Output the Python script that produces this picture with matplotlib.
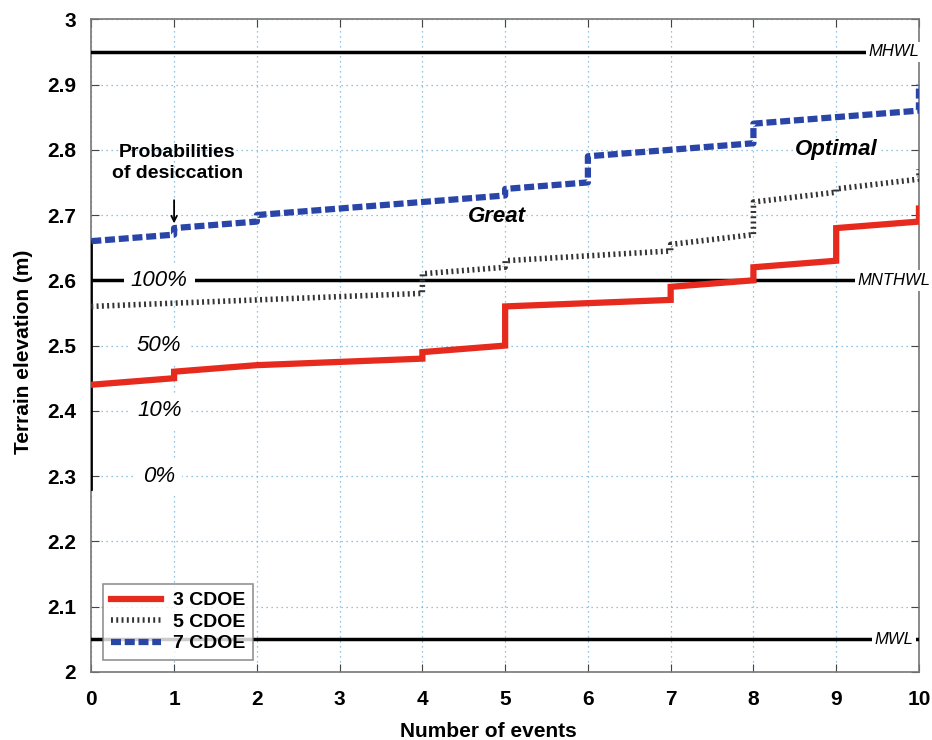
import matplotlib.pyplot as plt
import numpy as np

plt.rcParams['font.family'] = ['Liberation Sans', 'DejaVu Sans']
plt.rcParams['font.weight'] = 'bold'

# step-like series: duplicated x values give the vertical jumps
x3 = [0, 1, 1, 2, 4, 4, 5, 5, 7, 7, 8, 8, 9, 9, 10, 10]
y3 = [2.44, 2.45, 2.46, 2.47, 2.48, 2.49, 2.50, 2.56, 2.57, 2.59, 2.60, 2.62, 2.63, 2.68, 2.69, 2.71]

x5 = [0, 4, 4, 5, 5, 7, 7, 8, 8, 9, 9, 10, 10]
y5 = [2.56, 2.58, 2.61, 2.62, 2.63, 2.645, 2.655, 2.67, 2.72, 2.735, 2.74, 2.755, 2.77]

x7 = [0, 1, 1, 2, 2, 5, 5, 6, 6, 8, 8, 10, 10]
y7 = [2.66, 2.67, 2.68, 2.69, 2.70, 2.73, 2.74, 2.75, 2.79, 2.81, 2.84, 2.86, 2.90]

ref_levels = [2.95, 2.60, 2.05]
ref_names = ['MHWL', 'MNTHWL', 'MWL']

prob_labels = ['100%', '50%', '10%', '0%']
prob_levels = [2.60, 2.50, 2.40, 2.30]

fig = plt.figure(figsize=(9.32, 7.40), dpi=100)
ax = fig.add_axes([0.098, 0.092, 0.888, 0.882])

ax.set_xlim(0, 10)
ax.set_ylim(2, 3)
ax.set_xticks(range(0, 11))
ax.set_yticks(np.round(np.arange(2, 3.01, 0.1), 1))
ax.set_yticklabels(['2', '2.1', '2.2', '2.3', '2.4', '2.5', '2.6', '2.7', '2.8', '2.9', '3'])
ax.grid(True, color='#6fb0d8', linestyle=(0, (1, 3)), linewidth=0.9)
ax.tick_params(direction='in', top=True, right=True, length=6, labelsize=15, color='#444444')
ax.tick_params(axis='x', pad=13)
ax.tick_params(axis='y', pad=11)
for s in ax.spines.values():
    s.set_color('#777777')
    s.set_linewidth(1.2)

# reference water levels
for lvl, name in zip(ref_levels, ref_names):
    ax.axhline(lvl, color='black', lw=2.5, zorder=3)
    ax.text(9.7, lvl, name, ha='center', va='center', style='italic', fontweight='normal',
            fontsize=12, zorder=4, bbox=dict(facecolor='white', edgecolor='none', pad=2))

# vertical line at x = 0
ax.plot([0, 0], [2.28, 2.66], color='black', lw=2, zorder=3)

ax.plot(x3, y3, color='#e62a1e', lw=4.5, solid_joinstyle='miter', label='3 CDOE', zorder=5)
ax.plot(x5, y5, color='#333333', lw=4, linestyle=(0, (0.35, 0.6)), dash_capstyle='butt',
        label='5 CDOE', zorder=5)
ax.plot(x7, y7, color='#2a45a8', lw=4.5, linestyle=(0, (1.6, 0.6)), dash_capstyle='butt',
        label='7 CDOE', zorder=5)

for lab, lvl in zip(prob_labels, prob_levels):
    ax.text(0.82, lvl, lab, ha='center', va='center', style='italic', fontweight='normal',
            fontsize=16, zorder=4, bbox=dict(facecolor='white', edgecolor='none', pad=5))

ax.text(1.04, 2.78, 'Probabilities\nof desiccation', ha='center', va='center', fontsize=14,
        linespacing=1.35, zorder=6)
ax.annotate('', xy=(1.0, 2.683), xytext=(1.0, 2.727),
            arrowprops=dict(arrowstyle='->', color='black', lw=1.3), zorder=6)

ax.text(4.9, 2.698, 'Great', ha='center', va='center', style='italic', fontsize=16, zorder=6)
ax.text(9.0, 2.80, 'Optimal', ha='center', va='center', style='italic', fontsize=16, zorder=6,
        bbox=dict(facecolor='white', edgecolor='none', pad=1))

ax.set_xlabel('Number of events', fontsize=15, fontweight='bold')
ax.xaxis.set_label_coords(0.48, -0.076)
ax.set_ylabel('Terrain elevation (m)', fontsize=15, fontweight='bold')
ax.yaxis.set_label_coords(-0.07, 0.49)

leg = ax.legend(loc='lower left', fontsize=14, frameon=True, fancybox=False, handlelength=2.6,
                borderaxespad=0.6, labelspacing=0.2, borderpad=0.4, handletextpad=0.6)
leg.get_frame().set_edgecolor('#777777')
leg.get_frame().set_linewidth(1.2)
leg.set_zorder(10)

fig.savefig('out.png', dpi=100)
